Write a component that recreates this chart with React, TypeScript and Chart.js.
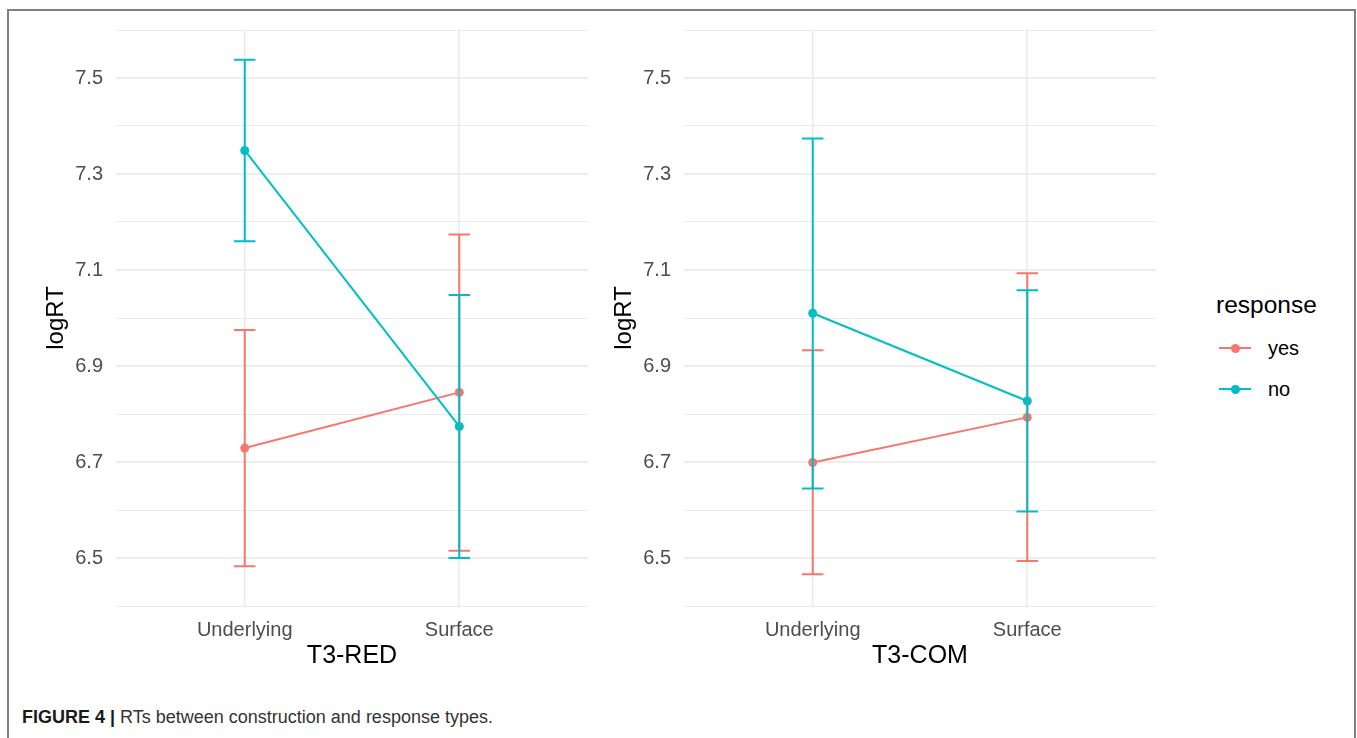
import React, { useEffect, useRef } from 'react';
import { Chart, registerables } from 'chart.js';

Chart.register(...registerables);

// ---- Data ----
const categories = ['Underlying', 'Surface'];
const panelTitles = ['T3-RED', 'T3-COM'];
const responses = ['yes', 'no'];
const seriesColors = ['#F8766D', '#00BFC4'];
const yGridValues = [6.4, 6.5, 6.6, 6.7, 6.8, 6.9, 7.0, 7.1, 7.2, 7.3, 7.4, 7.5, 7.6];
const yTickLabels = ['6.5', '6.7', '6.9', '7.1', '7.3', '7.5'];

// T3-RED
const redYesMean = [6.729, 6.845];
const redYesLow = [6.483, 6.515];
const redYesHigh = [6.975, 7.174];
const redNoMean = [7.349, 6.774];
const redNoLow = [7.160, 6.500];
const redNoHigh = [7.538, 7.048];

// T3-COM
const comYesMean = [6.699, 6.793];
const comYesLow = [6.466, 6.494];
const comYesHigh = [6.933, 7.093];
const comNoMean = [7.010, 6.827];
const comNoLow = [6.645, 6.597];
const comNoHigh = [7.374, 7.058];

const FONT = '"Liberation Sans", Arial, Helvetica, sans-serif';
Chart.defaults.font.family = FONT;

const errorBarPlugin = {
  id: 'errorBars',
  afterDatasetsDraw(chart: any) {
    const { ctx } = chart;
    const x = chart.scales.x;
    const y = chart.scales.y;
    chart.data.datasets.forEach((ds: any) => {
      ds.data.forEach((pt: any, i: number) => {
        const px = x.getPixelForValue(pt.x);
        const half = x.getPixelForValue(pt.x + 0.05) - px;
        const yl = y.getPixelForValue(ds.low[i]);
        const yh = y.getPixelForValue(ds.high[i]);
        ctx.save();
        ctx.strokeStyle = ds.borderColor;
        ctx.lineWidth = 2;
        ctx.lineCap = 'butt';
        ctx.beginPath();
        ctx.moveTo(px, yl);
        ctx.lineTo(px, yh);
        ctx.moveTo(px - half, yh);
        ctx.lineTo(px + half, yh);
        ctx.moveTo(px - half, yl);
        ctx.lineTo(px + half, yl);
        ctx.stroke();
        ctx.restore();
      });
    });
  },
};

type Series = { mean: number[]; low: number[]; high: number[] };

function Panel(props: { left: number; title: string; series: Series[] }) {
  const ref = useRef<HTMLCanvasElement>(null);
  useEffect(() => {
    if (!ref.current) return;
    const datasets = props.series.map((s, k) => ({
      label: responses[k],
      data: s.mean.map((v, i) => ({ x: i + 1, y: v })),
      low: s.low,
      high: s.high,
      borderColor: seriesColors[k],
      backgroundColor: seriesColors[k],
      pointBackgroundColor: seriesColors[k],
      pointBorderWidth: 0,
      pointRadius: 4.5,
      borderWidth: 2,
      tension: 0,
      order: k === 0 ? 1 : 0,
    }));
    const chart = new Chart(ref.current, {
      type: 'line',
      data: { datasets: datasets as any },
      plugins: [errorBarPlugin],
      options: {
        responsive: false,
        animation: false,
        layout: { padding: { left: 0, top: 30, right: 12, bottom: 0 } },
        plugins: { legend: { display: false }, tooltip: { enabled: false } },
        scales: {
          x: {
            type: 'linear',
            min: 0.4,
            max: 2.6,
            afterBuildTicks: (s: any) => {
              s.ticks = categories.map((_, i) => ({ value: i + 1 }));
            },
            afterFit: (s: any) => {
              s.height = 84;
            },
            ticks: {
              callback: (v: any) => categories[Math.round(v) - 1],
              color: '#4D4D4D',
              font: { size: 20 },
              padding: 12,
              autoSkip: false,
              maxRotation: 0,
            },
            grid: { color: '#EBEBEB', lineWidth: 1.6, drawTicks: false },
            border: { display: false },
            title: {
              display: true,
              text: props.title,
              color: '#000',
              font: { size: 25 },
              padding: { top: 0, bottom: 19 },
            },
          },
          y: {
            type: 'linear',
            min: 6.4,
            max: 7.6,
            afterBuildTicks: (s: any) => {
              s.ticks = yGridValues.map((v) => ({ value: v }));
            },
            afterFit: (s: any) => {
              s.width = 96;
            },
            ticks: {
              callback: (v: any) => {
                const t = Number(v).toFixed(1);
                return yTickLabels.includes(t) ? t : '';
              },
              color: '#4D4D4D',
              font: { size: 20 },
              padding: 13,
              autoSkip: false,
            },
            grid: {
              color: '#EBEBEB',
              lineWidth: (c: any) => {
                const t = Number(c.tick?.value).toFixed(1);
                return yTickLabels.includes(t) ? 1.8 : 1.0;
              },
              drawTicks: false,
            },
            border: { display: false },
            title: {
              display: true,
              text: 'logRT',
              color: '#000',
              font: { size: 24 },
              padding: { top: 21.6, bottom: 0 },
            },
          },
        },
      } as any,
    });
    return () => chart.destroy();
  }, []);
  return (
    <canvas
      ref={ref}
      width={580}
      height={690}
      style={{ position: 'absolute', left: props.left, top: 0, width: 580, height: 690 }}
    />
  );
}

export default function App() {
  const redSeries: Series[] = [
    { mean: redYesMean, low: redYesLow, high: redYesHigh },
    { mean: redNoMean, low: redNoLow, high: redNoHigh },
  ];
  const comSeries: Series[] = [
    { mean: comYesMean, low: comYesLow, high: comYesHigh },
    { mean: comNoMean, low: comNoLow, high: comNoHigh },
  ];
  const legendRows = [349, 390];
  return (
    <div
      style={{
        position: 'absolute',
        left: 0,
        top: 0,
        width: 1357,
        height: 738,
        overflow: 'hidden',
        background: '#fff',
        fontFamily: FONT,
      }}
    >
      <div
        style={{
          position: 'absolute',
          left: 7,
          top: 9,
          width: 1349,
          height: 800,
          border: '2px solid #808080',
          boxSizing: 'border-box',
        }}
      />
      <Panel left={20} title={panelTitles[0]} series={redSeries} />
      <Panel left={588} title={panelTitles[1]} series={comSeries} />

      <div
        style={{
          position: 'absolute',
          left: 1216,
          top: 290,
          fontSize: 24.5,
          lineHeight: '30px',
          color: '#000',
          whiteSpace: 'nowrap',
        }}
      >
        response
      </div>
      {responses.map((r, k) => (
        <React.Fragment key={r}>
          <div
            style={{
              position: 'absolute',
              left: 1219,
              top: legendRows[k] - 2,
              width: 32,
              height: 2,
              background: seriesColors[k],
            }}
          />
          <div
            style={{
              position: 'absolute',
              left: 1230.5,
              top: legendRows[k] - 5.5,
              width: 9,
              height: 9,
              borderRadius: '50%',
              background: seriesColors[k],
            }}
          />
          <div
            style={{
              position: 'absolute',
              left: 1268,
              top: legendRows[k] - 13,
              fontSize: 20,
              lineHeight: '24px',
              color: '#000',
            }}
          >
            {r}
          </div>
        </React.Fragment>
      ))}

      <div
        style={{
          position: 'absolute',
          left: 22,
          top: 706,
          fontSize: 18,
          lineHeight: '22px',
          color: '#333',
          whiteSpace: 'nowrap',
        }}
      >
        <b style={{ color: '#1a1a1a' }}>FIGURE 4 |</b> RTs between construction and response types.
      </div>
    </div>
  );
}
